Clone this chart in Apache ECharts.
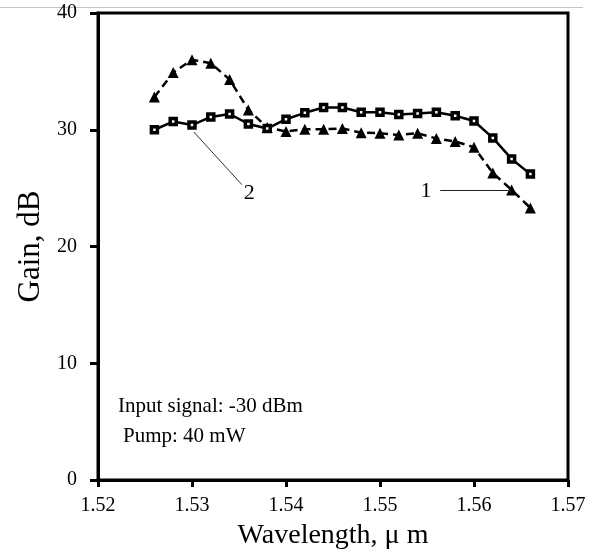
<!DOCTYPE html>
<html>
<head>
<meta charset="utf-8">
<script src="https://cdn.jsdelivr.net/npm/echarts@6/dist/echarts.min.js"></script>
<style>
  html, body { margin: 0; padding: 0; background: #fff; }
  #chart { width: 594px; height: 553px; }
</style>
</head>
<body>
<div id="chart"></div>
<script>
// wavelengths, um
const wavelengths = [1.526, 1.528, 1.530, 1.532, 1.534, 1.536, 1.538, 1.540, 1.542, 1.544, 1.546,
  1.548, 1.550, 1.552, 1.554, 1.556, 1.558, 1.560, 1.562, 1.564, 1.566];
// curve 1 (squares, solid)
const gainSquares = [30.0, 30.7, 30.4, 31.1, 31.35, 30.5, 30.1, 30.9, 31.45, 31.9, 31.9,
  31.5, 31.5, 31.3, 31.4, 31.5, 31.2, 30.75, 29.3, 27.5, 26.2];
// curve 2 (triangles, dashed)
const gainTriangles = [32.8, 34.9, 36.0, 35.7, 34.3, 31.7, 30.2, 29.85, 30.05, 30.05, 30.1,
  29.75, 29.7, 29.55, 29.7, 29.25, 29.0, 28.5, 26.3, 24.85, 23.3];

const xTicks = [1.52, 1.53, 1.54, 1.55, 1.56, 1.57];
const yTicks = [0, 10, 20, 30, 40];

const serif = '"Liberation Serif", "DejaVu Serif", serif';

const pair = (xs, ys) => xs.map((x, i) => [x, ys[i]]);

const chart = echarts.init(document.getElementById('chart'));

chart.setOption({
  backgroundColor: '#fff',
  animation: false,
  grid: {
    left: 98, right: 26, top: 13, bottom: 73,
    outerBoundsMode: 'none',
    show: true, borderColor: '#000', borderWidth: 3
  },
  xAxis: {
    type: 'value',
    min: xTicks[0], max: xTicks[xTicks.length - 1], interval: 0.01,
    name: 'Wavelength, \u03bc m',
    nameLocation: 'middle', nameGap: 42,
    nameTextStyle: { fontFamily: serif, fontSize: 28, color: '#000' },
    axisLine: { lineStyle: { color: '#000', width: 3 } },
    axisTick: { length: 7, lineStyle: { color: '#000', width: 3 } },
    axisLabel: {
      fontFamily: serif, fontSize: 20, color: '#000', margin: 16,
      formatter: v => v.toFixed(2)
    },
    splitLine: { show: false }
  },
  yAxis: {
    type: 'value',
    min: yTicks[0], max: yTicks[yTicks.length - 1], interval: 10,
    name: 'Gain, dB',
    nameLocation: 'middle', nameGap: 52,
    nameTextStyle: { fontFamily: serif, fontSize: 31, color: '#000' },
    axisLine: { show: true, lineStyle: { color: '#000', width: 3 } },
    axisTick: { show: true, length: 8, lineStyle: { color: '#000', width: 3 } },
    axisLabel: { fontFamily: serif, fontSize: 20, color: '#000', margin: 21 },
    splitLine: { show: false }
  },
  series: [
    {
      name: '1',
      type: 'line',
      data: pair(wavelengths, gainSquares),
      symbol: 'rect', symbolSize: 6,
      lineStyle: { color: '#000', width: 2.5 },
      itemStyle: { color: '#fff', borderColor: '#000', borderWidth: 3.5 },
      z: 3,
      markLine: {
        silent: true,
        symbol: ['none', 'arrow'], symbolSize: [0, 7],
        lineStyle: { color: '#222', width: 1, type: 'solid' },
        label: { show: false },
        data: [[{ coord: [1.5564, 24.84] }, { coord: [1.5638, 24.84] }]]
      }
    },
    {
      name: '2',
      type: 'line',
      data: pair(wavelengths, gainTriangles),
      symbol: 'triangle', symbolSize: 11,
      lineStyle: { color: '#000', width: 2.5, type: [8, 5] },
      itemStyle: { color: '#000' },
      z: 2,
      markLine: {
        silent: true,
        symbol: ['none', 'none'],
        lineStyle: { color: '#333', width: 1, type: 'solid' },
        label: { show: false },
        data: [[{ coord: [1.5302, 29.8] }, { coord: [1.5353, 25.3] }]]
      }
    }
  ]
});

// curve labels placed in data coordinates
const labels = [
  { text: '2', at: [1.5361, 24.6] },
  { text: '1', at: [1.5549, 24.7] }
];
const labelGraphics = labels.map(l => {
  const p = chart.convertToPixel({ gridIndex: 0 }, l.at);
  return {
    type: 'text', x: p[0], y: p[1],
    style: { text: l.text, font: '22px ' + serif, fill: '#000', align: 'center', verticalAlign: 'middle' }
  };
});

chart.setOption({
  graphic: [
    { type: 'line', shape: { x1: 0, y1: 7.5, x2: 583, y2: 7.5 }, style: { stroke: '#c4c4c4', lineWidth: 1 } },
    { type: 'text', left: 118, top: 396, style: { text: 'Input signal: -30 dBm', font: '21px ' + serif, fill: '#000' } },
    { type: 'text', left: 123, top: 426, style: { text: 'Pump: 40 mW', font: '21px ' + serif, fill: '#000' } }
  ].concat(labelGraphics)
});
</script>
</body>
</html>
